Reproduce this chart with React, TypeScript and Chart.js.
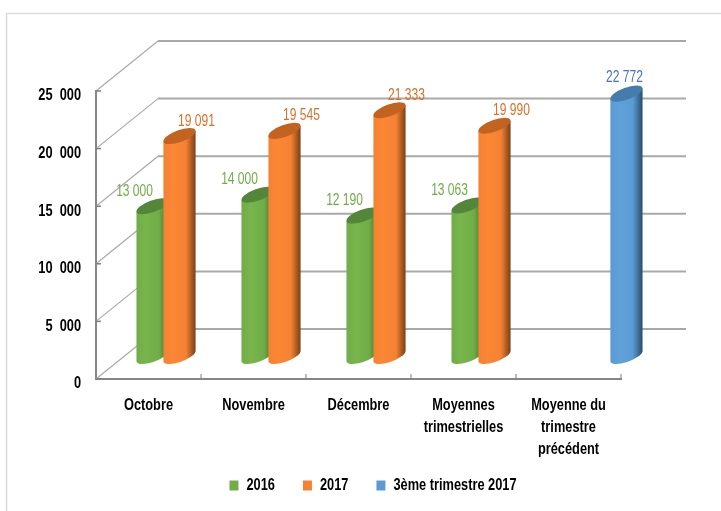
import React, { useEffect, useRef } from "react";
import { Chart, registerables } from "chart.js";

Chart.register(...registerables);

const categories: (string | string[])[] = [
  "Octobre",
  "Novembre",
  "Décembre",
  ["Moyennes", "trimestrielles"],
  ["Moyenne du", "trimestre", "précédent"],
];
const series2016 = [13000, 14000, 12190, 13063, null];
const series2017 = [19091, 19545, 21333, 19990, null];
const seriesT3 = [null, null, null, null, 22772];
const yTickLabels = ["0", "5  000", "10  000", "15  000", "20  000", "25  000"];
const labels2016 = ["13 000", "14 000", "12 190", "13 063", ""];
const labels2017 = ["19 091", "19 545", "21 333", "19 990", ""];
const labelsT3 = ["", "", "", "", "22 772"];

const DEPTH_X = 62;
const DEPTH_Y = -50;
const BAR_DX = 31;
const BAR_DY = -23;
const ROT = (-20 * Math.PI) / 180;
const FONT = '"Liberation Sans", Arial, sans-serif';
const NARROW = 0.8;
const NARROW_VALUES = 0.73;

const looks = [
  { light: "#78b54c", base: "#70ad47", dark: "#44692b", top: "#54863a", text: "#70ad47", lx: -18, ly: -15 },
  { light: "#fb8735", base: "#f58233", dark: "#774018", top: "#c2631f", text: "#d9702a", lx: 17, ly: -15 },
  { light: "#60a1da", base: "#5b9bd5", dark: "#2b4c6b", top: "#447cae", text: "#4472c4", lx: -2, ly: -16 },
];
const valueLabels = [labels2016, labels2017, labelsT3];

let squeeze = NARROW;

const scene = {
  id: "scene3d",
  // No condensed font is installed, so text is squeezed horizontally on the context.
  beforeInit(chart: any) {
    const ctx = chart.ctx;
    const fill = ctx.fillText.bind(ctx);
    const measure = ctx.measureText.bind(ctx);
    ctx.fillText = (text: string, x: number, y: number) => {
      ctx.save();
      ctx.translate(x, y);
      ctx.scale(squeeze, 1);
      fill(text, 0, 0);
      ctx.restore();
    };
    ctx.measureText = (text: string) => ({ width: measure(text).width * squeeze });
  },
  beforeDraw(chart: any) {
    const { ctx, width, height } = chart;
    ctx.save();
    ctx.strokeStyle = "#dcdcdc";
    ctx.lineWidth = 1.5;
    ctx.beginPath();
    ctx.moveTo(6.5, height);
    ctx.lineTo(6.5, 13.5);
    ctx.lineTo(width, 13.5);
    ctx.stroke();
    ctx.restore();
  },
  beforeDatasetsDraw(chart: any) {
    const { ctx, chartArea, scales } = chart;
    const y = scales.y;
    const x = scales.x;
    ctx.save();
    // Walls
    y.ticks.forEach((t: any) => {
      const py = y.getPixelForValue(t.value);
      ctx.strokeStyle = "#a9a9a9";
      ctx.lineWidth = 1.2;
      ctx.beginPath();
      ctx.moveTo(chartArea.left, py);
      ctx.lineTo(chartArea.left + DEPTH_X, py + DEPTH_Y);
      ctx.stroke();
      ctx.lineWidth = 2;
      ctx.beginPath();
      ctx.moveTo(chartArea.left + DEPTH_X, py + DEPTH_Y);
      ctx.lineTo(chartArea.right + DEPTH_X + 3, py + DEPTH_Y);
      ctx.stroke();
      // inner tick on the value axis
      ctx.strokeStyle = "#7f7f7f";
      ctx.lineWidth = 1.5;
      ctx.beginPath();
      ctx.moveTo(chartArea.left, py);
      ctx.lineTo(chartArea.left + 5, py);
      ctx.stroke();
    });
    // Inner ticks on the category axis
    ctx.strokeStyle = "#7f7f7f";
    ctx.lineWidth = 1;
    const n = x.ticks.length;
    for (let i = 0; i < n; i++) {
      const px = x.getPixelForValue(i) + (chartArea.right - chartArea.left) / n / 2;
      ctx.beginPath();
      ctx.moveTo(px, chartArea.bottom);
      ctx.lineTo(px, chartArea.bottom - 5);
      ctx.stroke();
    }
    // Cylinders
    chart.data.datasets.forEach((ds: any, di: number) => {
      const meta = chart.getDatasetMeta(di);
      const look = looks[di];
      meta.data.forEach((el: any, i: number) => {
        if (ds.data[i] == null) return;
        const a = el.width * 0.63;
        const b = el.width * 0.22;
        const cx = el.x + BAR_DX;
        const topY = el.y + BAR_DY;
        const botY = el.base + BAR_DY;
        const t0 = Math.atan2(b * Math.sin(-ROT), a * Math.cos(ROT));
        const ex = a * Math.cos(t0) * Math.cos(ROT) - b * Math.sin(t0) * Math.sin(ROT);
        const ey = a * Math.cos(t0) * Math.sin(ROT) + b * Math.sin(t0) * Math.cos(ROT);
        const g = ctx.createLinearGradient(cx - ex, 0, cx + ex, 0);
        g.addColorStop(0, look.base);
        g.addColorStop(0.3, look.light);
        g.addColorStop(0.7, look.base);
        g.addColorStop(1, look.dark);
        ctx.fillStyle = g;
        ctx.beginPath();
        ctx.moveTo(cx - ex, topY - ey);
        ctx.lineTo(cx - ex, botY - ey);
        ctx.ellipse(cx, botY, a, b, ROT, t0 + Math.PI, t0, true);
        ctx.lineTo(cx + ex, topY + ey);
        ctx.closePath();
        ctx.fill();
        ctx.fillStyle = look.top;
        ctx.beginPath();
        ctx.ellipse(cx, topY, a, b, ROT, 0, Math.PI * 2);
        ctx.fill();
      });
    });
    ctx.restore();
  },
  beforeDatasetDraw() {
    return false;
  },
  afterDatasetsDraw(chart: any) {
    const { ctx } = chart;
    ctx.save();
    ctx.font = `16.5px ${FONT}`;
    ctx.textAlign = "center";
    ctx.textBaseline = "middle";
    squeeze = NARROW_VALUES;
    chart.data.datasets.forEach((ds: any, di: number) => {
      const meta = chart.getDatasetMeta(di);
      const look = looks[di];
      meta.data.forEach((el: any, i: number) => {
        if (ds.data[i] == null) return;
        ctx.fillStyle = look.text;
        ctx.fillText(valueLabels[di][i], el.x + BAR_DX + look.lx, el.y + BAR_DY + look.ly);
      });
    });
    squeeze = NARROW;
    ctx.restore();
  },
};

export default function App() {
  const ref = useRef<HTMLCanvasElement>(null);
  useEffect(() => {
    document.body.style.margin = "0";
    const chart = new Chart(ref.current as HTMLCanvasElement, {
      type: "bar",
      data: {
        labels: categories as any,
        datasets: [
          { label: "2016", data: series2016, backgroundColor: looks[0].base, categoryPercentage: 0.77, barPercentage: 1 },
          { label: "2017", data: series2017, backgroundColor: looks[1].base, categoryPercentage: 0.77, barPercentage: 1 },
          { label: "3ème trimestre 2017", data: seriesT3, backgroundColor: looks[2].base, categoryPercentage: 0.77, barPercentage: 1 },
        ],
      },
      options: {
        responsive: false,
        animation: false,
        layout: { padding: { left: 25, right: 0, top: 91, bottom: 7.5 } },
        plugins: {
          title: { display: false },
          tooltip: { enabled: false },
          legend: {
            position: "bottom",
            labels: {
              boxWidth: 9,
              boxHeight: 10,
              padding: 28,
              color: "#000",
              font: { family: FONT, size: 16, weight: "bold" },
            },
          },
        },
        scales: {
          x: {
            grid: { display: false, drawTicks: false },
            border: { display: true, color: "#868686", width: 2 },
            ticks: {
              maxRotation: 0,
              minRotation: 0,
              autoSkip: false,
              padding: 16,
              color: "#000",
              font: { family: FONT, size: 16, weight: "bold", lineHeight: 1.36 },
            },
            afterFit: (s: any) => {
              s.height = 70.5;
              // Three-line labels run past the fixed axis box; do not clip them.
              s._computeLabelArea = () => undefined;
            },
          },
          y: {
            min: 0,
            max: 25000,
            grid: { display: false, drawTicks: false },
            border: { display: true, color: "#868686", width: 2 },
            ticks: {
              stepSize: 5000,
              padding: 15,
              labelOffset: 5,
              color: "#000",
              font: { family: FONT, size: 16, weight: "bold" },
              callback: (_v: any, i: number) => yTickLabels[i],
            },
            afterFit: (s: any) => {
              s.width = 71;
            },
          },
          spare: {
            position: "right",
            display: true,
            grid: { display: false, drawTicks: false },
            border: { display: false },
            ticks: { display: false },
            afterFit: (s: any) => {
              s.width = 100;
            },
          },
        },
      },
      plugins: [scene],
    } as any);
    return () => chart.destroy();
  }, []);
  return <canvas ref={ref} width={721} height={511} style={{ display: "block" }} />;
}
